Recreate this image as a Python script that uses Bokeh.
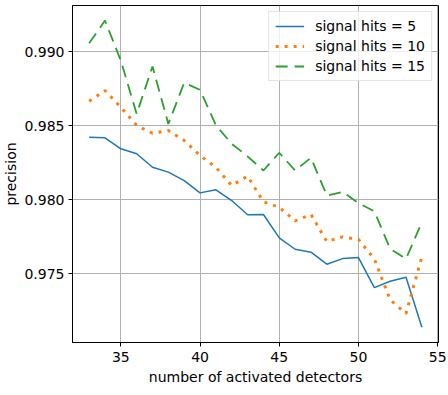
from bokeh.plotting import figure
from bokeh.models import Range1d, FixedTicker, PrintfTickFormatter, Legend, LegendItem
from bokeh.embed import file_html
from bokeh.resources import INLINE

detectors = list(range(33, 55))
hits5 = [0.98421, 0.98417, 0.98343, 0.98309, 0.98218, 0.98185, 0.98128, 0.98045,
         0.98066, 0.97993, 0.97897, 0.97899, 0.97741, 0.97664, 0.97644, 0.97563,
         0.97601, 0.97608, 0.97405, 0.97448, 0.97475, 0.97137]
hits10 = [0.98664, 0.98736, 0.98624, 0.98500, 0.98448, 0.98466, 0.98399, 0.98297,
          0.98218, 0.98095, 0.98158, 0.97985, 0.97948, 0.97856, 0.97899, 0.97716,
          0.97748, 0.97730, 0.97599, 0.97322, 0.97230, 0.97613]
hits15 = [0.99056, 0.99209, 0.98939, 0.98579, 0.98899, 0.98511, 0.98789, 0.98741,
          0.98502, 0.98376, 0.98292, 0.98196, 0.98316, 0.98196, 0.98282, 0.98027,
          0.98052, 0.97976, 0.97921, 0.97667, 0.97599, 0.97846]
labels = ["signal hits = 5", "signal hits = 10", "signal hits = 15"]
x_ticks = [35, 40, 45, 50, 55]
y_ticks = [0.975, 0.980, 0.985, 0.990]

FONT = "DejaVu Sans"

p = figure(width=448, height=395, output_backend="svg", toolbar_location=None,
           x_range=Range1d(31.95, 55.05), y_range=Range1d(0.97034, 0.99311),
           min_border_left=71, min_border_right=10, min_border_top=5,
           min_border_bottom=53)
p.background_fill_color = "white"
p.border_fill_color = "white"
p.outline_line_color = "black"
p.outline_line_width = 1

for ax in (p.xaxis[0], p.yaxis[0]):
    ax.axis_line_color = "black"
    ax.major_tick_line_color = "black"
    ax.major_tick_out = 4
    ax.major_tick_in = 0
    ax.minor_tick_line_color = None
    ax.major_label_text_font = FONT
    ax.major_label_text_font_size = "14px"
    ax.major_label_text_color = "black"
    ax.axis_label_text_font = FONT
    ax.axis_label_text_font_size = "14px"
    ax.axis_label_text_font_style = "normal"
    ax.axis_label_text_color = "black"

p.xaxis[0].major_label_standoff = 5
p.xaxis[0].axis_label_standoff = 4
p.yaxis[0].major_label_standoff = 4
p.yaxis[0].axis_label_standoff = 2

p.xaxis[0].ticker = FixedTicker(ticks=x_ticks)
p.yaxis[0].ticker = FixedTicker(ticks=y_ticks)
p.yaxis[0].formatter = PrintfTickFormatter(format="%.3f")
p.xaxis[0].axis_label = "number of activated detectors"
p.yaxis[0].axis_label = "precision"

p.xgrid.ticker = FixedTicker(ticks=x_ticks)
p.ygrid.ticker = FixedTicker(ticks=y_ticks)
p.grid.grid_line_color = "#b0b0b0"
p.grid.grid_line_width = 1

r1 = p.line(detectors, hits5, line_color="#1f77b4", line_width=1.5)
r2 = p.line(detectors, hits10, line_color="#ff7f0e", line_width=3, line_dash="3 6")
r3 = p.line(detectors, hits15, line_color="#2ca02c", line_width=1.8, line_dash="12 7")

legend = Legend(items=[LegendItem(label=labels[0], renderers=[r1]),
                       LegendItem(label=labels[1], renderers=[r2]),
                       LegendItem(label=labels[2], renderers=[r3])],
                location="top_right")
legend.label_text_font = FONT
legend.label_text_font_size = "14px"
legend.label_text_color = "black"
legend.glyph_width = 29
legend.glyph_height = 16
legend.label_height = 16
legend.spacing = 4
legend.padding = 6
legend.margin = 6
legend.label_standoff = 11
legend.border_line_color = "#cccccc"
legend.border_line_width = 1
legend.background_fill_color = "white"
legend.background_fill_alpha = 0.8
p.add_layout(legend)

open("out.html", "w").write(file_html(p, INLINE))
